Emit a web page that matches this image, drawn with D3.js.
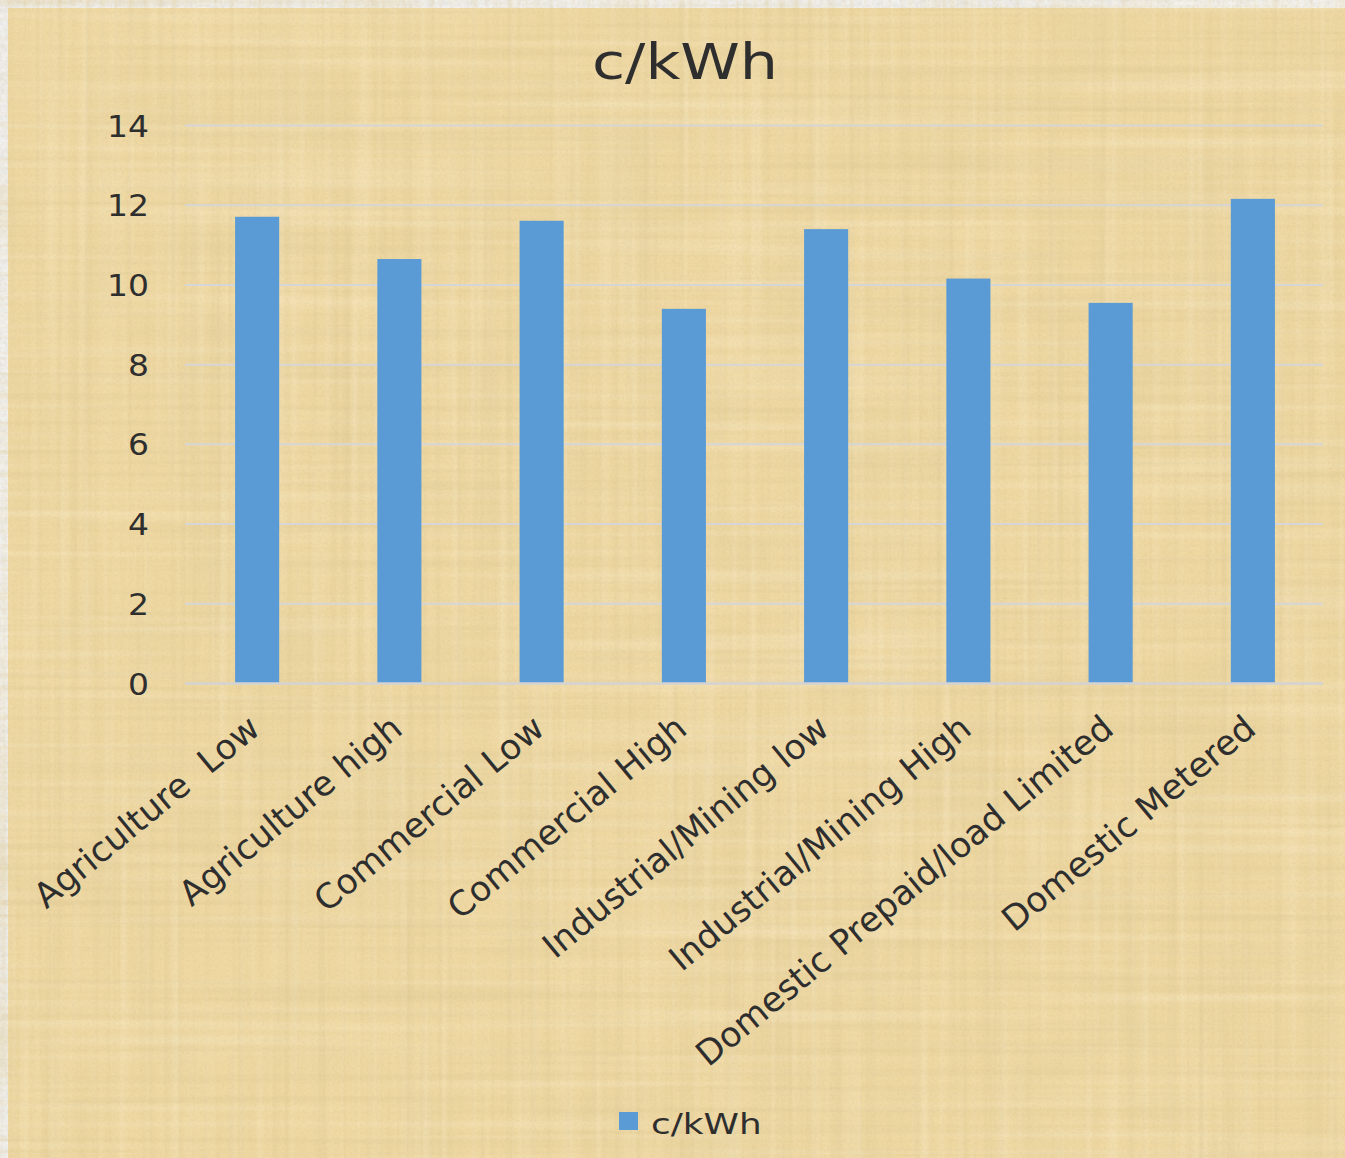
<!DOCTYPE html>
<html>
<head>
<meta charset="utf-8">
<script src="https://cdn.jsdelivr.net/npm/d3@7"></script>
<style>
  html, body { margin: 0; padding: 0; background: #eeeeee; }
  svg { display: block; }
  text { font-family: "DejaVu Sans", Verdana, sans-serif; fill: #2e2e2e; }
</style>
</head>
<body>
<script>
// Tariff categories and their energy charge in cents per kWh
const categories = [
  "Agriculture  Low",
  "Agriculture high",
  "Commercial Low",
  "Commercial High",
  "Industrial/Mining low",
  "Industrial/Mining High",
  "Domestic Prepaid/load Limited",
  "Domestic Metered"
];
const values = [11.71, 10.65, 11.61, 9.40, 11.40, 10.16, 9.55, 12.16];
const yTicks = [0, 2, 4, 6, 8, 10, 12, 14];
const seriesName = "c/kWh";
const chartTitle = "c/kWh";

const W = 1345, H = 1158;
const svg = d3.select("body").append("svg").attr("width", W).attr("height", H);
const defs = svg.append("defs");

// Papyrus-like texture: straight fibres built from strongly stretched turbulence
function fibreFilter(id, freq, seed, octaves, rgb, aMul, aOff) {
  const f = defs.append("filter").attr("id", id)
    .attr("x", 0).attr("y", 0).attr("width", W).attr("height", H)
    .attr("filterUnits", "userSpaceOnUse");
  f.append("feTurbulence").attr("type", "fractalNoise")
    .attr("baseFrequency", freq).attr("numOctaves", octaves).attr("seed", seed);
  f.append("feColorMatrix").attr("type", "matrix").attr("values",
    `0 0 0 0 ${rgb[0]}  0 0 0 0 ${rgb[1]}  0 0 0 0 ${rgb[2]}  ${aMul} 0 0 0 ${aOff}`);
}
const brown = [0.72, 0.58, 0.30];
fibreFilter("hFibre", "0.0015 0.14", 4, 3, brown, 2.2, -1.0);
fibreFilter("vFibre", "0.14 0.0015", 9, 3, brown, 2.2, -1.0);
fibreFilter("hLight", "0.002 0.1", 17, 2, [1, 0.94, 0.78], 2.2, -1.05);
fibreFilter("vLight", "0.1 0.002", 23, 2, [1, 0.94, 0.78], 2.2, -1.05);
fibreFilter("blotch", "0.012 0.012", 31, 3, [0.78, 0.64, 0.34], 2.0, -0.9);
fibreFilter("grain", "0.4 0.4", 21, 1, [0.6, 0.48, 0.25], 1.4, -0.6);
fibreFilter("edgeGrain", "0.15 0.15", 2, 2, [0.72, 0.72, 0.72], 1.6, -0.6);

// Outer pale frame
svg.append("rect").attr("width", W).attr("height", H).attr("fill", "#f1f1f1");
svg.append("rect").attr("width", W).attr("height", H).attr("filter", "url(#edgeGrain)").attr("opacity", 0.6);

// Chart area background
const bg = svg.append("g");
const area = { x: 8, y: 8, w: W - 8, h: H - 8 };
function layer(fill, filter, opacity) {
  const r = bg.append("rect").attr("x", area.x).attr("y", area.y)
    .attr("width", area.w).attr("height", area.h).attr("opacity", opacity);
  if (fill) r.attr("fill", fill);
  if (filter) r.attr("filter", `url(#${filter})`);
}
layer("#efd8a2", null, 1);
layer(null, "blotch", 0.5);
layer(null, "hFibre", 0.45);
layer(null, "vFibre", 0.45);
layer(null, "hLight", 0.25);
layer(null, "vLight", 0.22);
layer(null, "grain", 0.3);

// Plot geometry
const plot = { left: 185, right: 1323, top: 125.5, bottom: 683.5 };

const x = d3.scaleBand().domain(categories)
  .range([plot.left, plot.right]).paddingInner(0.69).paddingOuter(0.345);
const y = d3.scaleLinear().domain([0, 14]).range([plot.bottom, plot.top]);

// Gridlines
svg.append("g").selectAll("line").data(yTicks.filter(t => t > 0)).join("line")
  .attr("x1", plot.left).attr("x2", plot.right)
  .attr("y1", d => y(d)).attr("y2", d => y(d))
  .attr("stroke", "#d6d6d6").attr("stroke-width", 2);

// Y axis labels
const yAxis = d3.axisLeft(y).tickValues(yTicks).tickSize(0).tickPadding(0);
const yg = svg.append("g").attr("transform", `translate(149,0)`).call(yAxis);
yg.select(".domain").remove();
yg.selectAll("text")
  .attr("font-size", 30).attr("dy", "0.35em")
  .attr("font-family", "DejaVu Sans")
  .attr("fill", "#2e2e2e")
  .attr("transform", d => `translate(0,${y(d)}) scale(1.1,1) translate(0,${-y(d)})`);

// Bars
svg.append("g").selectAll("rect").data(values).join("rect")
  .attr("x", (d, i) => x(categories[i]) + 1)
  .attr("y", d => y(d))
  .attr("width", x.bandwidth())
  .attr("height", d => y(0) - y(d))
  .attr("fill", "#5b9bd5");

// Baseline
svg.append("line").attr("x1", plot.left).attr("x2", plot.right)
  .attr("y1", y(0)).attr("y2", y(0))
  .attr("stroke", "#d3d3d3").attr("stroke-width", 2.5);

// Category labels, rotated
svg.append("g").selectAll("text").data(categories).join("text")
  .attr("transform", d => `translate(${x(d) + x.bandwidth() / 2 + 6},732) rotate(-39.5)`)
  .attr("text-anchor", "end")
  .attr("font-size", 34.5)
  .style("white-space", "pre")
  .text(d => d);

// Title
svg.append("text")
  .attr("transform", "translate(685,79) scale(1.23,1)")
  .attr("text-anchor", "middle")
  .attr("font-size", 49)
  .text(chartTitle);

// Legend
const lg = svg.append("g");
lg.append("rect").attr("x", 619).attr("y", 1112).attr("width", 19).attr("height", 18).attr("fill", "#5b9bd5");
lg.append("text").attr("transform", "translate(651,1134) scale(1.28,1)")
  .attr("font-size", 28).text(seriesName);
</script>
</body>
</html>
